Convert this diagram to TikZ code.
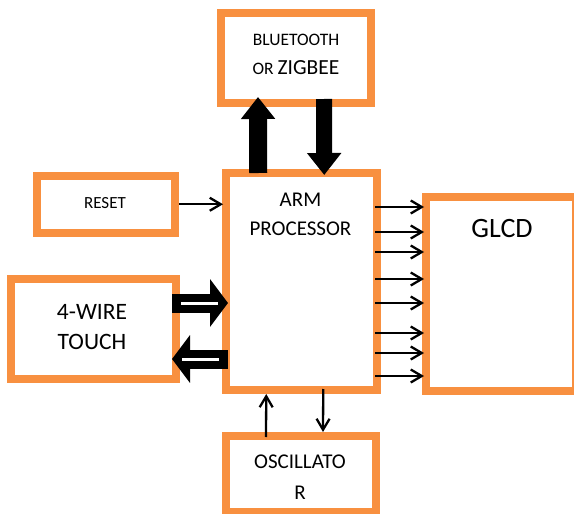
\documentclass[tikz,border=0pt]{standalone}
\usepackage{fontspec}
\setmainfont{Carlito}
\usepackage{xcolor}
\usepackage{tikz}
\usetikzlibrary{positioning, arrows.meta}
\definecolor{boxorange}{RGB}{248,144,64}

\begin{document}
\begin{tikzpicture}[x=1pt, y=-1pt,
    block/.style={draw=boxorange, line width=8pt, fill=white},
    thinarrow/.style={-{Straight Barb[length=11pt,width=13pt]}, line width=2.3pt},
    fatarrow/.style={-{Triangle[length=22pt,width=33pt]}},
    hollowarrow/.style={-{Triangle[length=18pt,width=47pt]}, line width=19pt,
      postaction={draw=white, line width=3pt, -, shorten <=9pt, shorten >=10pt}}]
        \useasboundingbox (0,0) rectangle (574,514);
        \clip (0,0) rectangle (574,514);

        % Blocks
        \node[block, minimum width=150pt, minimum height=90pt] (BT) at (296,58) {};
        \node[block, minimum width=151.5pt, minimum height=217pt] (ARM) at (301.25,281.5) {};
        \node[block, minimum width=138.5pt, minimum height=56.5pt] (RESET) at (105.75,204.25) {};
        \node[block, minimum width=165pt, minimum height=100pt] (TOUCH) at (93.5,329) {};
        \node[block, minimum width=150pt, minimum height=194pt] (GLCD) at (501,294) {};
        \node[block, minimum width=150pt, minimum height=76pt] (OSC) at (301,474) {};

        % Wireless link
        \draw[fatarrow, line width=18pt] ([xshift=-43pt,yshift=-4pt]ARM.north) -- ([xshift=-38pt,yshift=10pt]BT.south);
        \draw[fatarrow, line width=16pt] ([xshift=28pt,yshift=8pt]BT.south) -- ([xshift=23pt,yshift=-6pt]ARM.north);

        % Touch panel
        \draw[hollowarrow] ([xshift=-8pt]TOUCH.east |- 0,303) -- ([xshift=6.5pt]ARM.west |- 0,303);
        \draw[hollowarrow] ([xshift=6.5pt]ARM.west |- 0,359) -- ([xshift=-8pt]TOUCH.east |- 0,359);

        % Thin lines
        \draw[thinarrow] (RESET.east) -- ([xshift=1.5pt]RESET.east -| ARM.west);
        \foreach \y in {207,232,252,279,303,333,353,376} {
          \draw[thinarrow] ([xshift=-6pt]ARM.east |- 0,\y) -- ([xshift=2pt]GLCD.west |- 0,\y);
        }
        \draw[thinarrow] ([xshift=-35pt,yshift=-5pt]OSC.north) -- ([xshift=-35pt]ARM.south);
        \draw[thinarrow] ([xshift=22pt,yshift=5pt]ARM.south) -- ([xshift=22pt]OSC.north);

        % Labels
        \node[font=\fontsize{17.5}{28.5}\selectfont, align=center] (BT-text) at (296,54.25)
          {BLUETOOTH\\OR {\fontsize{21.5}{21.5}\selectfont ZIGBEE}};
        \node[font=\fontsize{21}{29}\selectfont, align=center] (ARM-text) at (300.5,214.5) {ARM\\PROCESSOR};
        \node[font=\fontsize{17}{17}\selectfont] (RESET-text) at (105,203) {RESET};
        \node[font=\fontsize{23.5}{30}\selectfont, align=center] (TOUCH-text) at (92,327) {4-WIRE\\TOUCH};
        \node[font=\fontsize{28}{28}\selectfont] (GLCD-text) at (502,229) {GLCD};
        \node[font=\fontsize{21}{31}\selectfont, align=center] (OSC-text) at (300,477.5) {OSCILLATO\\R};
      \end{tikzpicture}
\end{document}
